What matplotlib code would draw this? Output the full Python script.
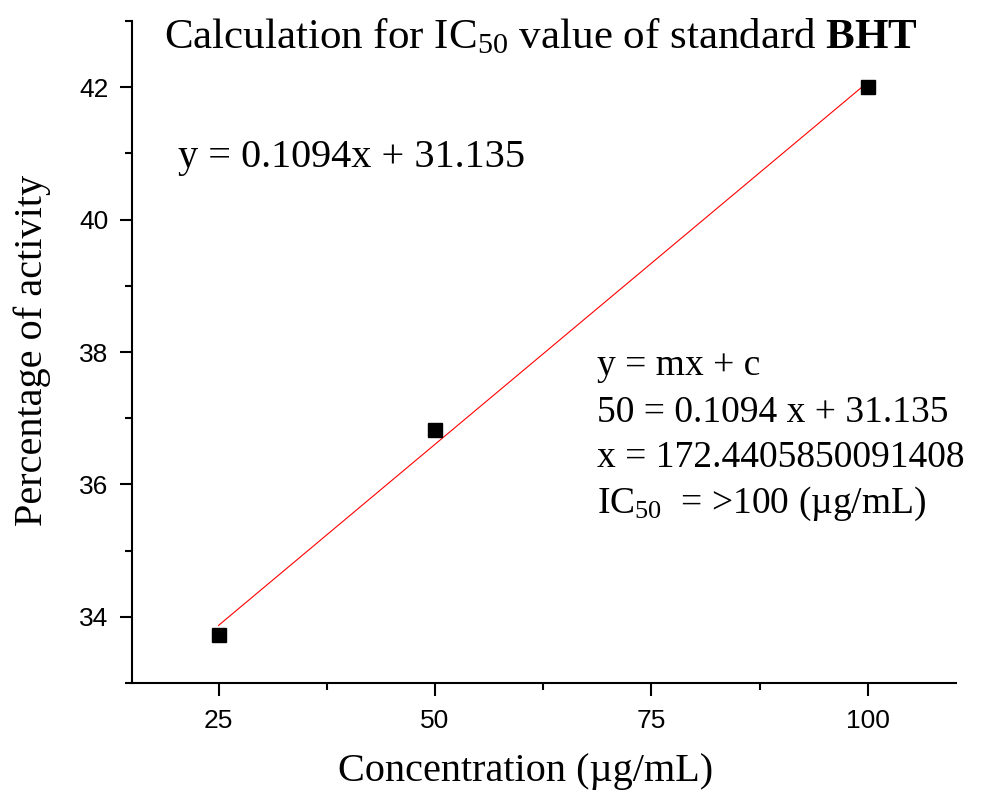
import matplotlib
matplotlib.use("Agg")
import matplotlib.pyplot as plt
from matplotlib.ticker import MultipleLocator
import numpy as np

# data
conc = [25, 50, 100]
activity = [33.73, 36.82, 42.0]
slope = 0.1094
intercept = 31.135

plt.rcParams["font.family"] = "Liberation Sans"
plt.rcParams["mathtext.fontset"] = "custom"
plt.rcParams["mathtext.rm"] = "Liberation Serif"
plt.rcParams["mathtext.it"] = "Liberation Serif:italic"
plt.rcParams["mathtext.bf"] = "Liberation Serif:bold"

W, H = 1002, 791
fig = plt.figure(figsize=(W / 100, H / 100), dpi=100)
ax = fig.add_axes([132 / W, 1 - 683 / H, (956 - 132) / W, (683 - 21) / H])

fit_x = np.array([conc[0], conc[-1]])
ax.plot(fit_x, slope * fit_x + intercept, color="#ff0000", lw=0.8, zorder=2)
ax.plot(conc, activity, ls="none", marker="s", ms=10, color="black", zorder=3)

ax.set_xlim(15, 110.2)
ax.set_ylim(33, 43)
ax.xaxis.set_major_locator(MultipleLocator(25))
ax.xaxis.set_minor_locator(MultipleLocator(12.5))
ax.yaxis.set_major_locator(MultipleLocator(2))
ax.yaxis.set_minor_locator(MultipleLocator(1))

for side in ["top", "right"]:
    ax.spines[side].set_visible(False)
for side in ["left", "bottom"]:
    ax.spines[side].set_linewidth(1.5)

ax.tick_params(axis="y", which="major", direction="out", length=9, width=1.5, pad=8, labelsize=19)
ax.tick_params(axis="x", which="major", direction="out", length=9, width=1.5, pad=10, labelsize=19)
ax.tick_params(which="minor", direction="out", length=5, width=1.5)

serif = "Liberation Serif"
fig.text(541 / W, 1 - 48 / H, r"Calculation for IC$_{\mathrm{50}}$ value of standard $\mathbf{BHT}$",
         ha="center", va="baseline", fontsize=31, family=serif)
fig.text(178 / W, 1 - 167 / H, "y = 0.1094x + 31.135",
         ha="left", va="baseline", fontsize=29, family=serif)

calc_lines = [
    "y = mx + c",
    "50 = 0.1094 x + 31.135",
    "x = 172.4405850091408",
    r"IC$_{\mathrm{50}}$  = >100 (µg/mL)",
]
baselines = [375, 422, 467, 513]
for txt, yb in zip(calc_lines, baselines):
    fig.text(597 / W, 1 - yb / H, txt, ha="left", va="baseline", fontsize=27, family=serif)

fig.text(526 / W, 1 - 771 / H, "Concentration (µg/mL)", ha="center", va="center",
         fontsize=29, family=serif)
fig.text(32 / W, 1 - 350 / H, "Percentage of activity", ha="center", va="center",
         rotation=90, fontsize=29, family=serif)

fig.savefig("out.png", dpi=100)
